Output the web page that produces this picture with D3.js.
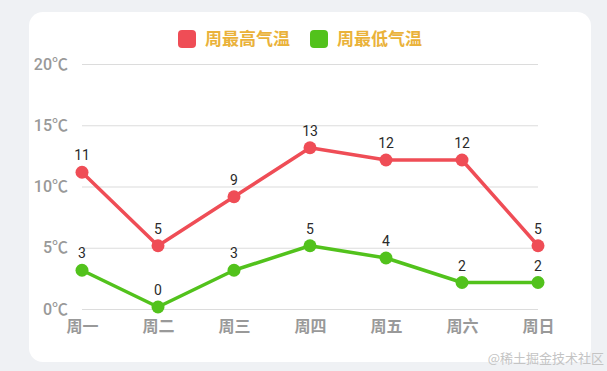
<!DOCTYPE html>
<meta charset="utf-8">
<style>
html,body{margin:0;}
body{background:#eff1f4;width:607px;height:371px;overflow:hidden;}
text{font-family:Roboto,"Noto Sans CJK SC",sans-serif;}
</style>
<script src="https://d3js.org/d3.v7.min.js"></script>
<body>
<script>
var days = ["周一","周二","周三","周四","周五","周六","周日"];
var highTemps = [11,5,9,13,12,12,5];
var lowTemps = [3,0,3,5,4,2,2];
var yTicks = [0,5,10,15,20];
var seriesNames = ["周最高气温","周最低气温"];
var seriesColors = ["#ef4d56","#52c21c"];

var width = 607, height = 371;

var svg = d3.select("body").append("svg")
    .attr("width", width)
    .attr("height", height);

// card
svg.append("rect")
    .attr("x", 29).attr("y", 12)
    .attr("width", 562).attr("height", 350)
    .attr("rx", 14)
    .attr("fill", "#fff");

var x = d3.scalePoint().domain(days).range([82, 538]);
var y = d3.scaleLinear().domain([0, 20]).range([309, 64]);

// grid + y labels
var yAxis = svg.append("g")
    .attr("transform", "translate(82,0)")
    .call(d3.axisLeft(y).tickValues(yTicks).tickSize(-456).tickPadding(14)
      .tickFormat(function(d){ return d + "℃"; }));
yAxis.select(".domain").remove();
yAxis.selectAll("line").attr("stroke", "#dcdcdc").attr("stroke-width", 1.2);
yAxis.selectAll("text")
    .attr("fill", "#999")
    .style("font-size", "16px")
    .style("font-weight", "500");

// x labels
var xAxis = svg.append("g")
    .attr("transform", "translate(0,309)")
    .call(d3.axisBottom(x).tickSize(0).tickPadding(12));
xAxis.select(".domain").remove();
xAxis.selectAll("text")
    .attr("fill", "#999")
    .style("font-size", "16px")
    .style("font-weight", "bold")
    .style("font-family", "'Noto Sans CJK SC'");

var line = d3.line()
    .x(function(d, i){ return x(days[i]); })
    .y(function(d){ return y(d); });

[highTemps, lowTemps].forEach(function(vals, k) {
  var g = svg.append("g").attr("transform", "translate(0,-2)");
  g.append("path")
      .datum(vals)
      .attr("d", line)
      .attr("fill", "none")
      .attr("stroke", seriesColors[k])
      .attr("stroke-width", 3.5)
      .attr("stroke-linejoin", "round");
  g.selectAll("circle")
      .data(vals)
      .enter().append("circle")
      .attr("cx", function(d, i){ return x(days[i]); })
      .attr("cy", function(d){ return y(d); })
      .attr("r", 6.5)
      .attr("fill", seriesColors[k]);
  g.selectAll(".lbl")
      .data(vals)
      .enter().append("text")
      .attr("class", "lbl")
      .attr("x", function(d, i){ return x(days[i]); })
      .attr("y", function(d){ return y(d) - 12; })
      .attr("text-anchor", "middle")
      .attr("fill", "#2a2a2a")
      .style("font-size", "14px")
      .text(function(d){ return d; });
});

// legend
var legendX = [178, 310];
seriesNames.forEach(function(name, k) {
  svg.append("rect")
      .attr("x", legendX[k]).attr("y", 30)
      .attr("width", 18).attr("height", 18)
      .attr("rx", 4)
      .attr("fill", seriesColors[k]);
  svg.append("text")
      .attr("x", legendX[k] + 27).attr("y", 39)
      .attr("dy", "0.35em")
      .attr("fill", "#eab23a")
      .style("font-size", "17px")
      .style("font-weight", "bold")
      .style("font-family", "'Noto Sans CJK SC'")
      .text(name);
});

// watermark
svg.append("text")
    .attr("x", 604).attr("y", 363)
    .attr("text-anchor", "end")
    .attr("fill", "#c4c4c4")
    .style("font-size", "13px")
    .style("font-family", "'Noto Sans CJK SC'")
    .text("@稀土掘金技术社区");
</script>
</body>
